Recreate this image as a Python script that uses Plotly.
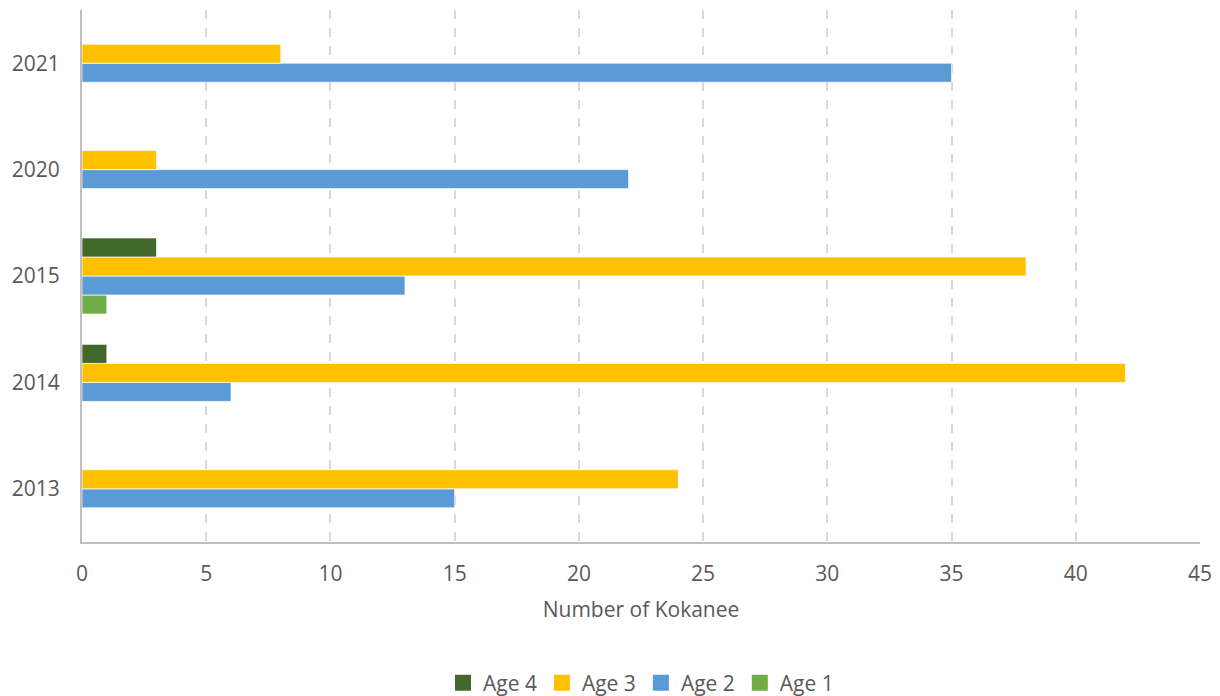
import plotly.graph_objects as go

years = ["2013", "2014", "2015", "2020", "2021"]
age1 = [0, 0, 1, 0, 0]
age2 = [15, 6, 13, 22, 35]
age3 = [24, 42, 38, 3, 8]
age4 = [0, 1, 3, 0, 0]

series = [
    ("Age 1", age1, "#70AD47"),
    ("Age 2", age2, "#5B9BD5"),
    ("Age 3", age3, "#FFC000"),
    ("Age 4", age4, "#43682B"),
]

FONT = "Open Sans"
fig = go.Figure()
for name, vals, col in series:
    fig.add_trace(go.Bar(
        y=years, x=vals, name=name, orientation="h", showlegend=False,
        marker=dict(color=col, line=dict(color="white", width=0.7)),
    ))
# legend entries with square swatches
for name, vals, col in reversed(series):
    fig.add_trace(go.Scatter(
        x=[None], y=[None], name=name, mode="markers",
        marker=dict(symbol="square", size=16, color=col),
    ))

fig.update_layout(
    width=1220, height=696,
    margin=dict(l=82, r=20, t=10, b=154, autoexpand=False),
    paper_bgcolor="white", plot_bgcolor="white",
    barmode="group", bargap=0.285, bargroupgap=0,
    font=dict(family=FONT, color="#595959", size=21),
    legend=dict(orientation="h", traceorder="normal",
                x=0.5, xanchor="center", y=-0.265, yanchor="middle",
                font=dict(size=21, color="#595959"),
                itemwidth=30, tracegroupgap=0),
    showlegend=True,
)
fig.update_xaxes(
    range=[0, 45], dtick=5, tick0=0,
    showgrid=True, gridcolor="#D9D9D9", griddash="dash", gridwidth=1.5,
    showline=True, linecolor="#BFBFBF", linewidth=2,
    zeroline=False, ticks="", ticklabelstandoff=12,
    tickfont=dict(size=21, color="#595959"),
    title=dict(text="Number of Kokanee", font=dict(size=21, color="#595959"), standoff=16),
)
fig.update_yaxes(
    type="category", categoryorder="array", categoryarray=years,
    showgrid=False, showline=True, linecolor="#BFBFBF", linewidth=2,
    zeroline=False, ticks="", ticklabelstandoff=16,
    tickfont=dict(size=21, color="#595959"),
)
fig.write_html("out.html")
